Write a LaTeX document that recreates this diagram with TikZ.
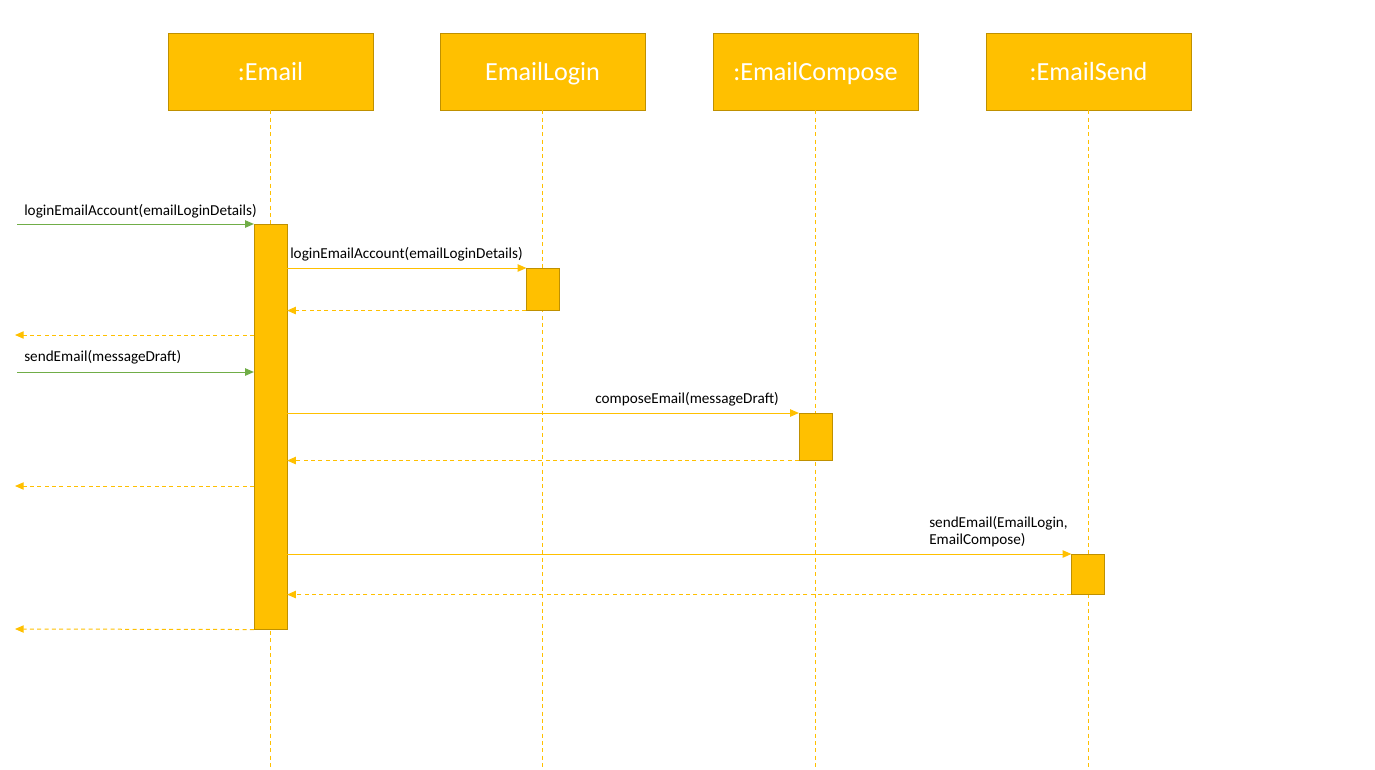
\documentclass[tikz,border=0pt]{standalone}
\usepackage{fontspec}
\setmainfont{Carlito}
\usetikzlibrary{arrows.meta}

\definecolor{gold}{HTML}{FFC000}
\definecolor{golddark}{HTML}{BF9000}
\definecolor{msggreen}{HTML}{70AD47}

\tikzset{
  objbox/.style={draw=golddark, fill=gold, text=white, minimum width=153.75pt,
    minimum height=57.75pt, text height=0.68em, text depth=0.16em,
    font=\fontsize{19.6}{23}\selectfont},
  actbar/.style={draw=golddark, fill=gold, minimum width=24.5pt, inner sep=0pt, anchor=north},
  lifeline/.style={gold, line width=0.6pt, dash pattern=on 3pt off 2.5pt},
  tip/.style={-{Triangle[length=6.5pt,width=5.5pt]}},
  incall/.style={tip, msggreen, line width=0.75pt},
  call/.style={tip, gold, line width=0.75pt},
  reply/.style={tip, gold, line width=0.75pt, dash pattern=on 3pt off 2.5pt},
  msg/.style={font=\fontsize{11.4}{12.75}\selectfont, inner sep=0pt}
}

\begin{document}
\begin{tikzpicture}[x=0.75pt, y=-0.75pt]
  \useasboundingbox (0,0) rectangle (1375,769);
  \coordinate (bottom) at (0,769);

  % objects
  \node[objbox] (email) at (270.5,71.5) {\raisebox{-4.5pt}{:Email}};
  \node[objbox] (login) at (542.5,71.5) {\raisebox{-4.5pt}{EmailLogin}};
  \node[objbox] (compose) at (815.5,71.5) {\raisebox{-4.5pt}{:EmailCompose}};
  \node[objbox] (send) at (1088.5,71.5) {\raisebox{-4.5pt}{:EmailSend}};

  % lifelines
  \foreach \obj in {email, login, compose, send}
    \draw[lifeline] (\obj.south) -- (\obj.south |- bottom);

  % activations
  \node[actbar, minimum height=303.75pt] (actEmail) at (270.5,224) {};
  \node[actbar, minimum height=31.5pt] (actLogin) at (543,268) {};
  \node[actbar, minimum height=35.25pt] (actCompose) at (815.5,413) {};
  \node[actbar, minimum height=30pt] (actSend) at (1088,554) {};

  % free ends on the left
  \coordinate (in1) at (17,224);
  \coordinate (out1) at (15,335);
  \coordinate (in2) at (17,372);
  \coordinate (out2) at (15,486);
  \coordinate (out3) at (15,629);

  % login
  \draw[incall] (in1) -- (actEmail.north west);
  \node[msg, anchor=base west] (lblIn1) at (24,215) {loginEmailAccount(emailLoginDetails)};
  \draw[call] (actEmail.east |- actLogin.north) -- (actLogin.north west);
  \node[msg, anchor=base west] (lblLogin) at (290,258) {loginEmailAccount(emailLoginDetails)};
  \draw[reply] (actLogin.south west) -- (actEmail.east |- actLogin.south);
  \draw[reply] (actEmail.west |- out1) -- (out1);

  % compose
  \draw[incall] (in2) -- (actEmail.west |- in2);
  \node[msg, anchor=base west] (lblIn2) at (24,361) {sendEmail(messageDraft)};
  \draw[call] (actEmail.east |- actCompose.north) -- (actCompose.north west);
  \node[msg, anchor=base east] (lblCompose) at (779,403) {composeEmail(messageDraft)};
  \draw[reply] (actCompose.south west) -- (actEmail.east |- actCompose.south);
  \draw[reply] (actEmail.west |- out2) -- (out2);

  % send
  \draw[call] (actEmail.east |- actSend.north) -- (actSend.north west);
  \node[msg, anchor=south west, align=left] (lblSend) at (929,547) {sendEmail(EmailLogin,\\EmailCompose)};
  \draw[reply] (actSend.south west) -- (actEmail.east |- actSend.south);
  \draw[reply] (actEmail.south west) -- (out3);
\end{tikzpicture}
\end{document}
